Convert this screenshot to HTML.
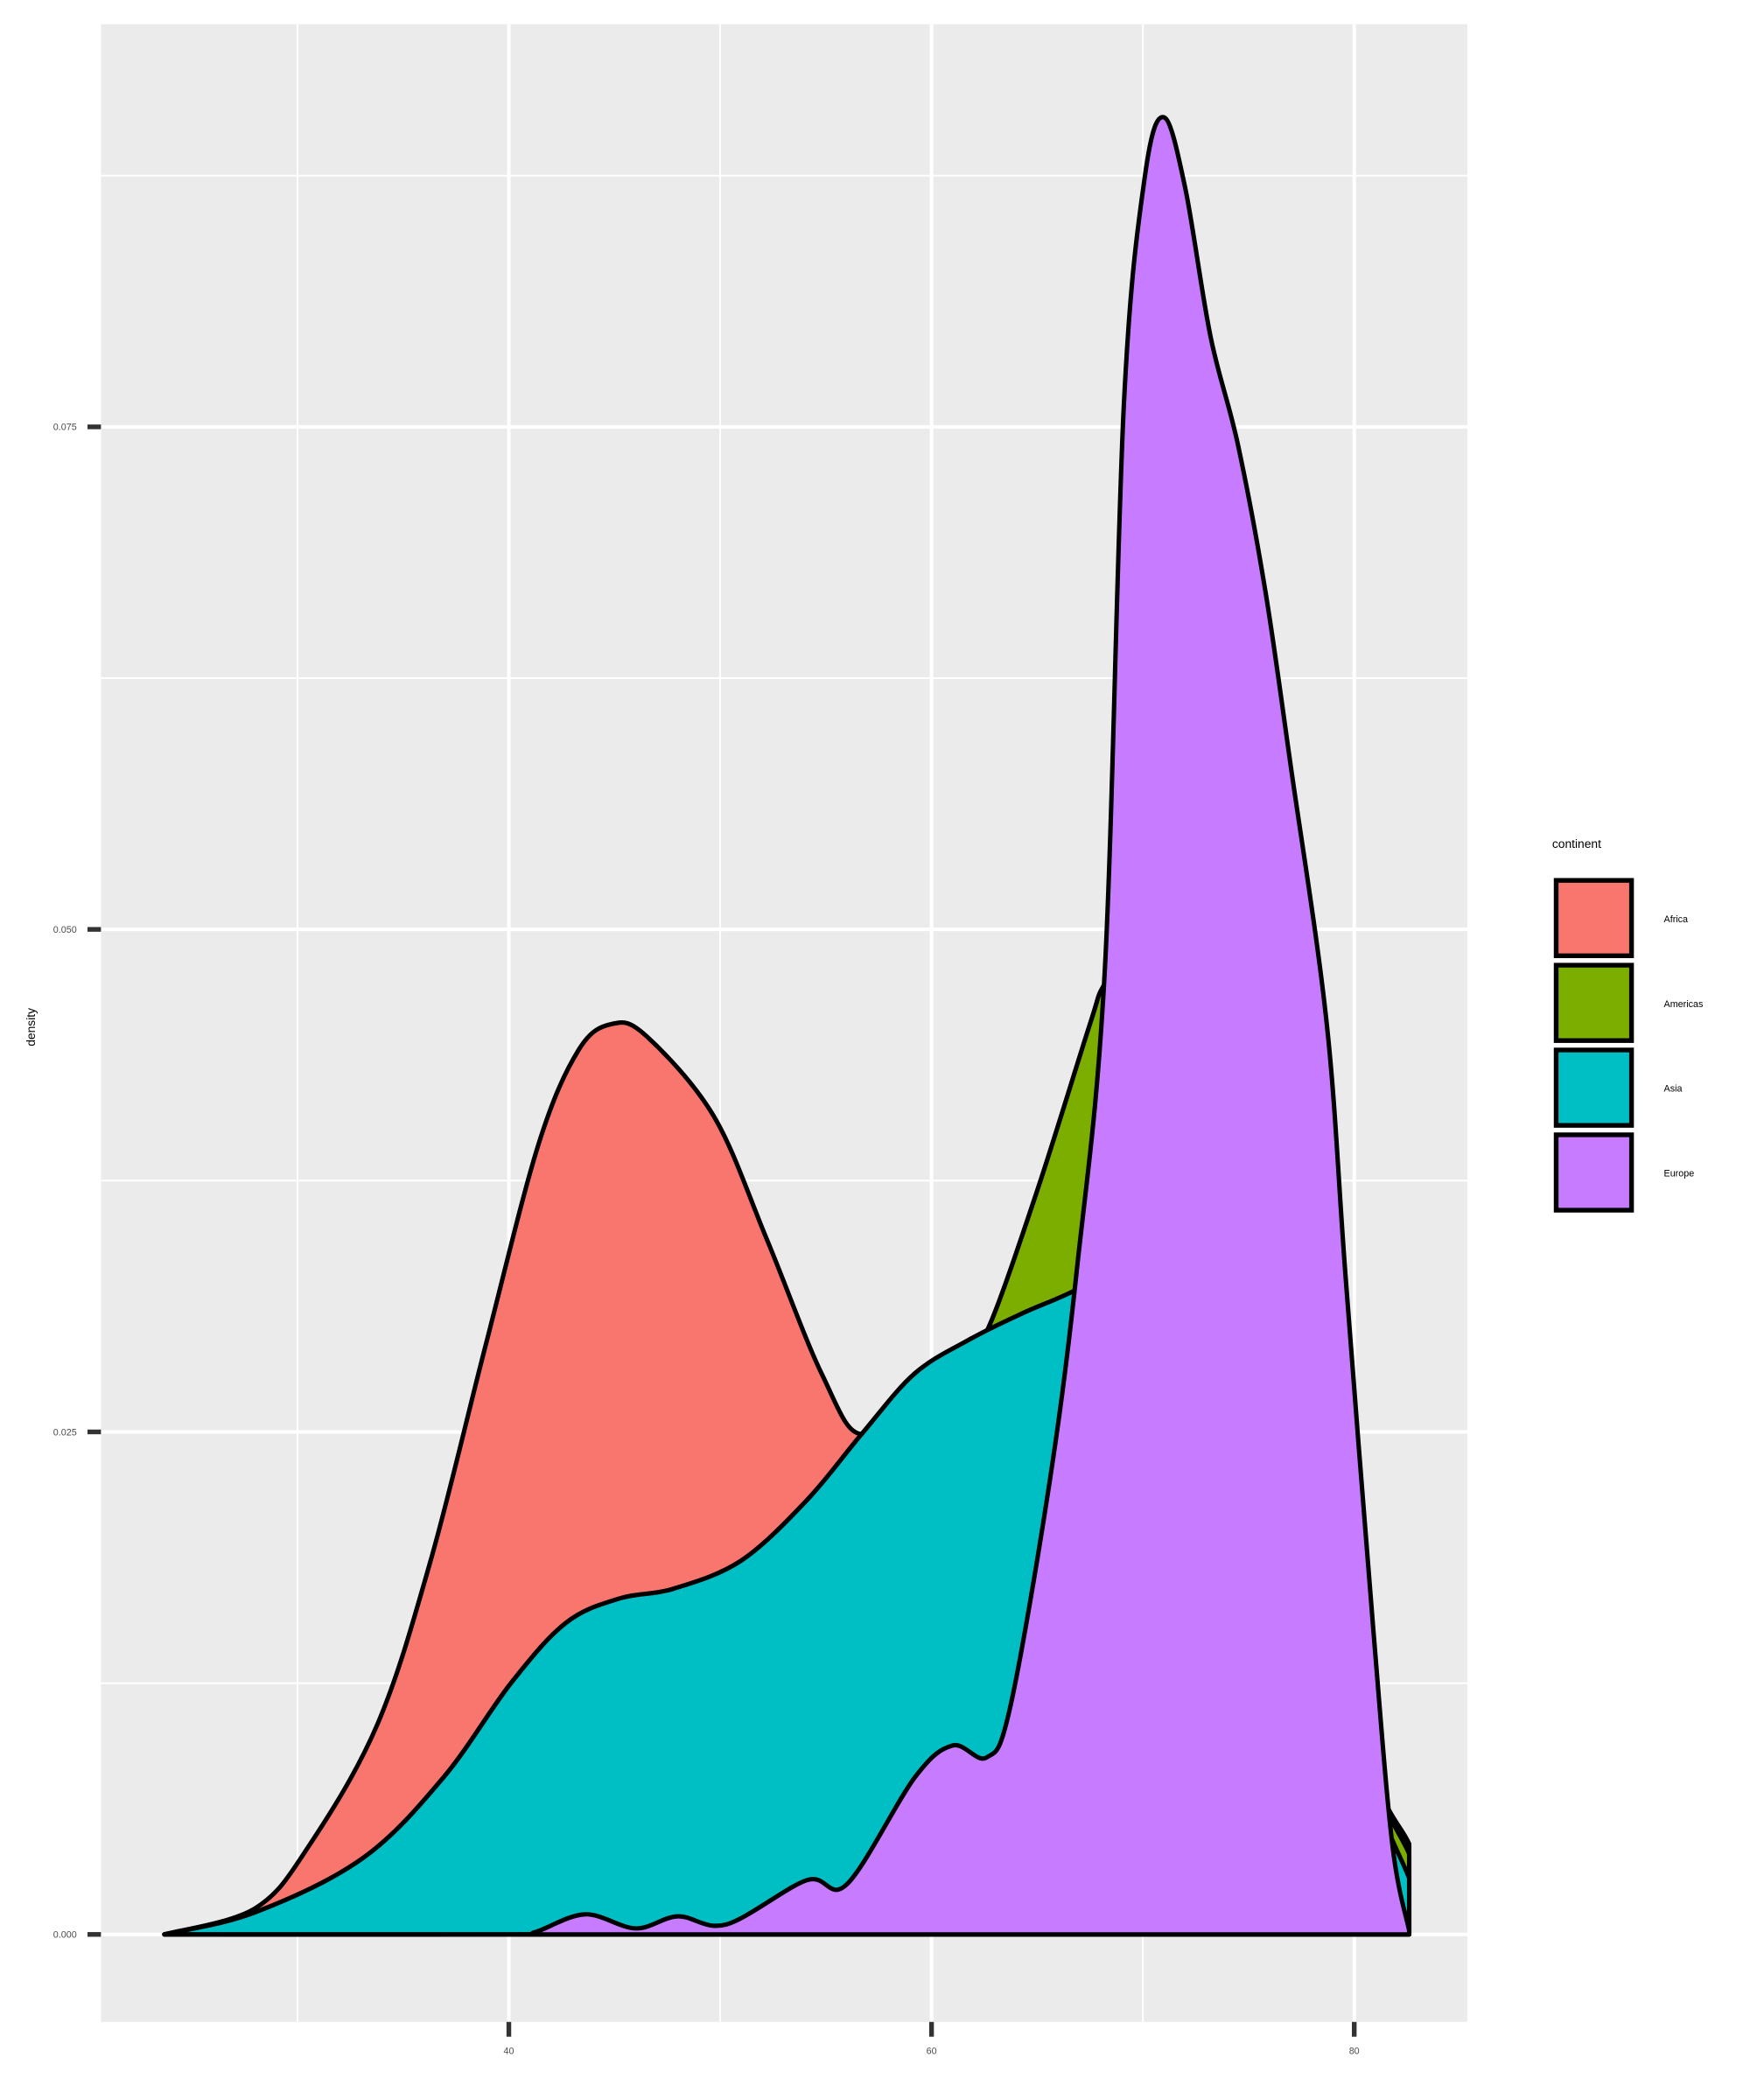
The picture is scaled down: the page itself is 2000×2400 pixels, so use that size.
<!DOCTYPE html>
<html><head><meta charset="utf-8"><style>
html,body{margin:0;padding:0;background:#fff;}
svg{display:block;font-family:"Liberation Sans",sans-serif;}
</style></head><body>
<svg id="chart" width="2000" height="2400" viewBox="0 0 1300 1560" xmlns="http://www.w3.org/2000/svg">
<rect x="75" y="18" width="1015" height="1484" fill="#ebebeb"/>
<g id="grid"></g>
<g id="areas"></g>
<g id="axes"></g>
<text x="583" y="1575" font-size="9" text-anchor="middle" fill="#000">lifeExp</text>
<text x="26" y="763" font-size="9" text-anchor="middle" fill="#000" transform="rotate(-90 26 763)">density</text>
<g>
<text x="1153" y="630" font-size="9" fill="#000">continent</text>
<rect x="1156" y="654" width="56" height="56" fill="#F8766D" stroke="#000" stroke-width="3.5"/>
<text x="1236" y="685" font-size="7" fill="#000">Africa</text>
<rect x="1156" y="717" width="56" height="56" fill="#7CAE00" stroke="#000" stroke-width="3.5"/>
<text x="1236" y="748" font-size="7" fill="#000">Americas</text>
<rect x="1156" y="780" width="56" height="56" fill="#00BFC4" stroke="#000" stroke-width="3.5"/>
<text x="1236" y="811" font-size="7" fill="#000">Asia</text>
<rect x="1156" y="843" width="56" height="56" fill="#C77CFF" stroke="#000" stroke-width="3.5"/>
<text x="1236" y="874" font-size="7" fill="#000">Europe</text>
</g>
</svg>
<script>
const xTicks = [40, 60, 80];
const xMinor = [30, 50, 70];
const yTicks = [0, 0.025, 0.05, 0.075];
const yTickLabels = ["0.000", "0.025", "0.050", "0.075"];
const yMinor = [0.0125, 0.0375, 0.0625, 0.0875];
const africaX = [23.7, 28, 30.6, 33.8, 36.3, 38.9, 41.4, 43.3, 44.9, 46.5, 49.7, 52.2, 54.8, 56.7, 59.2, 61.8, 62.7, 65, 67.5, 68.2, 70, 75, 80, 82.6];
const africaY = [0, 0.0013, 0.0045, 0.0105, 0.0186, 0.0293, 0.0393, 0.044, 0.0453, 0.0447, 0.0407, 0.0346, 0.0279, 0.0249, 0.0279, 0.0296, 0.0302, 0.037, 0.0453, 0.0473, 0.05, 0.035, 0.011, 0.0045];
const americasX = [23.7, 28, 33.1, 36.9, 40.1, 42.7, 45.2, 47.8, 51, 54.1, 56.7, 59.2, 61.8, 62.7, 65, 67.5, 68.2, 70, 75, 80, 82.6];
const americasY = [0, 0.0011, 0.0038, 0.0078, 0.0125, 0.0155, 0.0167, 0.0172, 0.0186, 0.0216, 0.0249, 0.0279, 0.0296, 0.0302, 0.037, 0.0453, 0.0473, 0.05, 0.035, 0.011, 0.004];
const asiaX = [23.7, 28, 33.1, 36.9, 40.1, 42.7, 45.2, 47.8, 51, 54.1, 56.7, 59.2, 61.8, 64.3, 66.9, 70, 75, 80, 82.6];
const asiaY = [0, 0.0011, 0.0038, 0.0078, 0.0125, 0.0155, 0.0167, 0.0172, 0.0186, 0.0216, 0.0249, 0.0279, 0.0296, 0.0309, 0.0321, 0.034, 0.03, 0.010, 0.0028];
const europeX = [23.7, 40, 41.2, 43.6, 46, 48, 50.3, 54.1, 56, 59.2, 61, 62.6, 63.7, 65.6, 66.9, 68.2, 69.1, 70.1, 71, 72, 73.2, 74.5, 75.8, 77, 78.7, 79.6, 80.9, 81.8, 82.6];
const europeY = [0, 0, 0.0001, 0.001, 0.0003, 0.0009, 0.0005, 0.0027, 0.0025, 0.0078, 0.0094, 0.0088, 0.0112, 0.0226, 0.0333, 0.048, 0.0761, 0.0875, 0.0904, 0.0869, 0.0795, 0.0741, 0.0668, 0.0581, 0.0453, 0.0326, 0.0152, 0.0045, 0.0002];

const NS = "http://www.w3.org/2000/svg";
const sx = v => 378 + (v - 40) * 15.7;
const sy = v => 1437 - v * 14932;
const PL = 75, PR = 1090, PT = 18, PB = 1502;

function mk(tag, attrs, parent) {
  const e = document.createElementNS(NS, tag);
  for (const k in attrs) e.setAttribute(k, attrs[k]);
  parent.appendChild(e);
  return e;
}
const grid = document.getElementById('grid');
const axes = document.getElementById('axes');
xMinor.forEach(v => {
  const l = mk('line', {x1: sx(v), x2: sx(v), y1: PT, y2: PB, stroke: '#fff', 'stroke-width': 1.3}, grid);
  
  
});
yMinor.forEach(v => {
  const l = mk('line', {x1: PL, x2: PR, y1: sy(v), y2: sy(v), stroke: '#fff', 'stroke-width': 1.3}, grid);
  
  
});
xTicks.forEach(v => {
  const l = mk('line', {x1: sx(v), x2: sx(v), y1: PT, y2: PB, stroke: '#fff', 'stroke-width': 2.6}, grid);
  
  
  const t = mk('line', {x1: sx(v), x2: sx(v), y1: PB, y2: PB + 11, stroke: '#333', 'stroke-width': 3.5}, axes);
  
  
  const tx = mk('text', {x: sx(v), y: PB + 24, 'font-size': 7, 'text-anchor': 'middle', fill: '#4d4d4d'}, axes);
  tx.textContent = String(v);
  
  
});
yTicks.forEach((v, i) => {
  const l = mk('line', {x1: PL, x2: PR, y1: sy(v), y2: sy(v), stroke: '#fff', 'stroke-width': 2.6}, grid);
  
  
  const t = mk('line', {x1: PL - 10, x2: PL, y1: sy(v), y2: sy(v), stroke: '#333', 'stroke-width': 3.5}, axes);
  
  
  const tx = mk('text', {x: PL - 18, y: sy(v) + 2.5, 'font-size': 7, 'text-anchor': 'end', fill: '#4d4d4d'}, axes);
  tx.textContent = yTickLabels[i];
  
  
});

function curvePath(xs, ys) {
  const p = xs.map((x, i) => [sx(x), sy(ys[i])]);
  let d = `M${p[0][0]},${sy(0)} L${p[0][0]},${p[0][1]}`;
  for (let i = 0; i < p.length - 1; i++) {
    const p0 = p[Math.max(0, i - 1)], p1 = p[i], p2 = p[i + 1], p3 = p[Math.min(p.length - 1, i + 2)];
    const c1 = [p1[0] + (p2[0] - p0[0]) / 6, p1[1] + (p2[1] - p0[1]) / 6];
    const c2 = [p2[0] - (p3[0] - p1[0]) / 6, p2[1] - (p3[1] - p1[1]) / 6];
    d += ` C${c1[0]},${c1[1]} ${c2[0]},${c2[1]} ${p2[0]},${p2[1]}`;
  }
  d += ` L${p[p.length - 1][0]},${sy(0)} Z`;
  return d;
}
const areas = document.getElementById('areas');
const series = [
  ['africa', africaX, africaY, '#F8766D'],
  ['americas', americasX, americasY, '#7CAE00'],
  ['asia', asiaX, asiaY, '#00BFC4'],
  ['europe', europeX, europeY, '#C77CFF']
];
series.forEach(s => {
  const a = mk('path', {d: curvePath(s[1], s[2]), fill: s[3], stroke: '#000', 'stroke-width': 3.3, 'stroke-linejoin': 'round'}, areas);
  
  
});
</script>
</body></html>
